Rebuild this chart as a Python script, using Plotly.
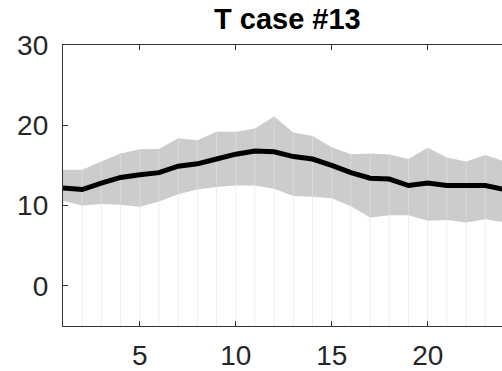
import plotly.graph_objects as go

# Hourly temperature statistics for case #13
hours = list(range(1, 25))
t_mean = [12.2, 12.0, 12.8, 13.5, 13.85, 14.1, 14.9, 15.2, 15.8, 16.4, 16.8, 16.7,
          16.1, 15.8, 15.0, 14.1, 13.4, 13.3, 12.5, 12.8, 12.5, 12.5, 12.5, 12.0]
t_upper = [14.45, 14.45, 15.5, 16.5, 17.0, 17.05, 18.4, 18.15, 19.2, 19.2, 19.6, 21.1,
           19.1, 18.65, 17.25, 16.4, 16.5, 16.35, 15.8, 17.2, 16.0, 15.5, 16.3, 15.5]
t_lower = [10.6, 10.0, 10.2, 10.1, 9.85, 10.5, 11.4, 12.0, 12.3, 12.5, 12.5, 12.1,
           11.2, 11.1, 10.9, 9.9, 8.5, 8.8, 8.8, 8.1, 8.2, 7.9, 8.3, 7.9]
x_ticks = [5, 10, 15, 20]
y_ticks = [0, 10, 20, 30]
title_text = "T case #13"

y_min, y_max = -5, 30
x_min, x_max = 1, 23.87

font_family = "Liberation Sans, Arial, Helvetica, sans-serif"
axis_color = "#333333"

fig = go.Figure()

# grey spread band
fig.add_trace(go.Scatter(x=hours, y=t_lower, mode="lines", line=dict(width=0),
                         hoverinfo="skip", showlegend=False))
fig.add_trace(go.Scatter(x=hours, y=t_upper, mode="lines", line=dict(width=0),
                         fill="tonexty", fillcolor="#cccccc",
                         hoverinfo="skip", showlegend=False))

# faint patch seams at each hour: below the band and inside it
below_x, below_y, inside_x, inside_y = [], [], [], []
for h, lo, hi in zip(hours[1:], t_lower[1:], t_upper[1:]):
    below_x += [h, h, None]
    below_y += [y_min, lo, None]
    inside_x += [h, h, None]
    inside_y += [lo, hi, None]
fig.add_trace(go.Scatter(x=below_x, y=below_y, mode="lines",
                         line=dict(color="#eeeeee", width=1),
                         hoverinfo="skip", showlegend=False))
fig.add_trace(go.Scatter(x=inside_x, y=inside_y, mode="lines",
                         line=dict(color="#dadada", width=1),
                         hoverinfo="skip", showlegend=False))

# mean curve
fig.add_trace(go.Scatter(x=hours, y=t_mean, mode="lines",
                         line=dict(color="black", width=5),
                         hoverinfo="skip", showlegend=False))

fig.update_layout(
    width=502, height=371,
    margin=dict(l=63, r=0, t=45, b=41),
    paper_bgcolor="white", plot_bgcolor="white",
    font=dict(family=font_family, size=28, color="#262626"),
    showlegend=False,
    annotations=[dict(text="<b>" + title_text + "</b>", xref="paper", yref="paper",
                      x=0.5125, y=1.0, yshift=26, xanchor="center", yanchor="middle",
                      showarrow=False, font=dict(size=29, color="black", family=font_family))],
)
fig.update_xaxes(range=[x_min, x_max], tickvals=x_ticks, ticktext=[str(v) for v in x_ticks],
                 showgrid=False, zeroline=False, showline=True, linecolor=axis_color,
                 linewidth=1.3, mirror="ticks", ticks="inside", ticklen=5,
                 tickcolor=axis_color, tickwidth=1.3, ticklabelstandoff=4)
fig.update_yaxes(range=[y_min, y_max], tickvals=y_ticks, ticktext=[str(v) for v in y_ticks],
                 showgrid=False, zeroline=False, showline=True, linecolor=axis_color,
                 linewidth=1.3, ticks="inside", ticklen=5,
                 tickcolor=axis_color, tickwidth=1.3, ticklabelstandoff=8)

fig.write_html("out.html", config={"displayModeBar": False})
